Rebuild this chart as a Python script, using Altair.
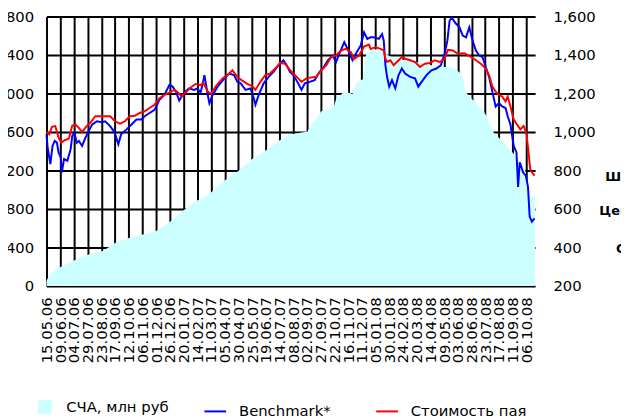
import altair as alt
import pandas as pd

# x-axis tick labels (every 25 days starting 15.05.06)
tick_labels = ["15.05.06", "09.06.06", "04.07.06", "29.07.06", "23.08.06", "17.09.06",
               "12.10.06", "06.11.06", "01.12.06", "26.12.06", "20.01.07", "14.02.07",
               "11.03.07", "05.04.07", "30.04.07", "25.05.07", "19.06.07", "14.07.07",
               "08.08.07", "02.09.07", "27.09.07", "22.10.07", "16.11.07", "11.12.07",
               "05.01.08", "30.01.08", "24.02.08", "20.03.08", "14.04.08", "09.05.08",
               "03.06.08", "28.06.08", "23.07.08", "17.08.08", "11.09.08", "06.10.08"]
tick_days = [i * 25 for i in range(len(tick_labels))]

left_ticks = [0, 400, 800, 1200, 1600, 2000, 2400, 2800]
right_ticks = [200, 400, 600, 800, 1000, 1200, 1400, 1600]

# СЧА, млн руб (left axis); x = days since 15.05.06
sca_day = [0, 4, 8, 15, 23, 35, 47, 60, 77, 90, 101, 113, 125, 138, 150, 162, 174, 186,
           198, 210, 222, 234, 246, 258, 270, 282, 294, 308, 321, 336, 351, 363, 375, 387,
           399, 411, 423, 435, 447, 460, 476, 483, 492, 501, 515, 524, 528, 540, 550, 558,
           566, 577, 583, 595, 605, 614, 625, 640, 660, 680, 702, 726, 744, 752, 758, 764,
           780, 795, 801, 807, 816, 828, 840, 852, 864, 873, 878, 882, 891]
sca_value = [54, 100, 130, 165, 191, 225, 259, 290, 328, 345, 362, 400, 447, 475, 499, 515,
             533, 550, 567, 605, 653, 710, 772, 820, 875, 910, 943, 1010, 1080, 1140, 1200,
             1260, 1319, 1360, 1405, 1455, 1507, 1545, 1576, 1590, 1605, 1680, 1744, 1815,
             1830, 1860, 1940, 2005, 2010, 1995, 2120, 2150, 2420, 2455, 2460, 2430, 2390,
             2360, 2340, 2320, 2294, 2277, 2265, 2225, 2190, 2020, 1918, 1832, 1780, 1695,
             1590, 1524, 1456, 1371, 1280, 1200, 1050, 930, 926]

# Benchmark* (right axis)
bench_day = [0, 2, 7, 11, 15, 19, 22, 26, 28, 32, 38, 44, 47, 51, 55, 59, 65, 71, 77, 83,
             92, 101, 107, 116, 124, 131, 136, 146, 155, 164, 173, 179, 188, 197, 206, 215,
             224, 230, 236, 242, 251, 260, 269, 275, 281, 285, 288, 294, 297, 303, 312, 321,
             333, 342, 348, 354, 363, 372, 378, 381, 387, 396, 405, 414, 423, 432, 438, 444,
             450, 459, 465, 471, 480, 489, 498, 504, 513, 522, 528, 534, 543, 549, 558, 564,
             573, 579, 585, 591, 597, 606, 612, 615, 618, 621, 625, 630, 636, 642, 648, 654,
             663, 672, 678, 684, 693, 702, 711, 719, 726, 731, 735, 739, 745, 753, 759, 765,
             771, 777, 783, 789, 795, 801, 807, 813, 819, 825, 831, 837, 841, 846, 852, 857,
             860, 863, 869, 874, 878, 881, 885, 890]
bench_value = [988, 920, 834, 928, 954, 945, 894, 868, 791, 860, 851, 911, 980, 997, 945,
               954, 928, 971, 1005, 1039, 1056, 1051, 1056, 1031, 1000, 937, 988, 1014, 1039,
               1065, 1065, 1082, 1099, 1116, 1168, 1193, 1244, 1236, 1210, 1164, 1205, 1227,
               1219, 1227, 1205, 1253, 1296, 1193, 1150, 1193, 1236, 1267, 1304, 1296, 1261,
               1253, 1219, 1227, 1176, 1142, 1193, 1253, 1287, 1313, 1347, 1373, 1347, 1313,
               1296, 1253, 1219, 1253, 1261, 1270, 1313, 1330, 1373, 1398, 1364, 1407, 1467,
               1432, 1373, 1407, 1450, 1518, 1484, 1492, 1492, 1484, 1509, 1475, 1347, 1287,
               1236, 1270, 1227, 1296, 1330, 1304, 1287, 1279, 1236, 1261, 1296, 1321, 1330,
               1347, 1407, 1475, 1578, 1595, 1569, 1544, 1501, 1492, 1544, 1475, 1424, 1398,
               1390, 1338, 1287, 1210, 1133, 1150, 1133, 1125, 1082, 1039, 928, 894, 715, 843,
               791, 774, 715, 561, 535, 552]

# Стоимость пая (right axis)
price_day = [0, 5, 10, 16, 22, 27, 34, 41, 47, 53, 59, 65, 73, 80, 89, 98, 107, 116, 125,
             134, 143, 152, 161, 170, 179, 188, 197, 206, 215, 224, 233, 240, 246, 254, 263,
             272, 281, 286, 294, 300, 309, 321, 333, 339, 348, 357, 366, 375, 381, 390, 399,
             408, 417, 426, 435, 442, 450, 459, 465, 474, 483, 492, 501, 510, 519, 528, 537,
             546, 555, 561, 570, 579, 588, 591, 600, 609, 615, 618, 621, 627, 633, 639, 648,
             654, 663, 672, 681, 690, 699, 708, 717, 726, 732, 741, 750, 762, 774, 783, 792,
             801, 807, 813, 819, 825, 831, 837, 841, 846, 852, 858, 864, 870, 875, 879, 882,
             885, 890]
price_value = [1000, 988, 1027, 1031, 971, 945, 959, 966, 1034, 1039, 1022, 1000, 1031, 1048,
               1082, 1082, 1082, 1082, 1056, 1044, 1056, 1082, 1085, 1099, 1108, 1125, 1142,
               1176, 1193, 1205, 1219, 1205, 1185, 1205, 1232, 1250, 1244, 1256, 1210, 1198,
               1239, 1279, 1304, 1321, 1287, 1267, 1250, 1239, 1219, 1261, 1296, 1304, 1330,
               1359, 1355, 1330, 1304, 1279, 1261, 1279, 1284, 1287, 1321, 1347, 1390, 1398,
               1424, 1432, 1415, 1381, 1398, 1444, 1455, 1432, 1441, 1432, 1424, 1381, 1364,
               1373, 1347, 1364, 1390, 1381, 1373, 1364, 1338, 1355, 1359, 1373, 1364, 1381,
               1427, 1424, 1407, 1410, 1390, 1373, 1355, 1330, 1296, 1236, 1210, 1193, 1185,
               1159, 1185, 1133, 1065, 1039, 1014, 1031, 997, 894, 809, 792, 774]

series_names = ["Benchmark*", "Стоимость пая"]
series_colors = ["#0000FF", "#FF0000"]
area_name = "СЧА, млн руб"
side_texts = ["Шкала справа", "Цена пая, руб.", "СЧА слева"]

area_df = pd.DataFrame({"day": sca_day, "value": sca_value, "s": area_name})
lines_df = pd.concat([
    pd.DataFrame({"day": bench_day, "value": bench_value, "series": series_names[0]}),
    pd.DataFrame({"day": price_day, "value": price_value, "series": series_names[1]}),
], ignore_index=True)

label_array = "[" + ",".join("'%s'" % t for t in tick_labels) + "]"

x_axis = alt.Axis(values=tick_days, labelExpr=label_array + "[round(datum.value/25)]",
                  labelAngle=270, labelAlign="right", labelBaseline="middle",
                  grid=True, ticks=False, domain=False, labelPadding=11,
                  labelOverlap=False, labelFlush=False, labelBound=False, title=None)
x_scale = alt.Scale(domain=[0, 891], nice=False, zero=False)

area = alt.Chart(area_df).mark_area(interpolate="linear", opacity=1).encode(
    x=alt.X("day:Q", scale=x_scale, axis=x_axis),
    y=alt.Y("value:Q", scale=alt.Scale(domain=[0, 2800], nice=False),
            axis=alt.Axis(orient="left", values=left_ticks, format=",d", grid=True,
                          ticks=False, domain=False, labelPadding=13, title=None)),
    fill=alt.Fill("s:N", scale=alt.Scale(domain=[area_name], range=["#CCFFFF"]),
                  legend=alt.Legend(orient="none", legendX=-9, legendY=388, title=None,
                                    symbolType="square", symbolSize=196,
                                    symbolStrokeWidth=0, labelOffset=14)),
)

lines = alt.Chart(lines_df).mark_line(strokeWidth=2, interpolate="linear").encode(
    x=alt.X("day:Q", scale=x_scale, axis=x_axis),
    y=alt.Y("value:Q", scale=alt.Scale(domain=[200, 1600], nice=False, zero=False),
            axis=alt.Axis(orient="right", values=right_ticks, format=",d", grid=False,
                          ticks=False, domain=False, labelPadding=18, title=None)),
    stroke=alt.Stroke("series:N", scale=alt.Scale(domain=series_names, range=series_colors),
                      legend=alt.Legend(orient="none", legendX=159, legendY=388, title=None,
                                        direction="horizontal", symbolType="stroke",
                                        symbolSize=484, symbolStrokeWidth=2,
                                        labelOffset=12, columnPadding=42)),
)

side_pos = [(566, 163), (560, 197), (577, 236)]
side_layers = []
for txt, (px, py) in zip(side_texts, side_pos):
    side_layers.append(
        alt.Chart(pd.DataFrame({"t": [txt]})).mark_text(
            align="left", baseline="middle", font="DejaVu Sans", fontSize=13,
            fontWeight="bold", color="black"
        ).encode(x=alt.value(px), y=alt.value(py), text="t:N")
    )

chart = alt.layer(area, lines, *side_layers).resolve_scale(
    y="independent"
).properties(
    width=495, height=273,
    padding={"left": 39, "top": 6, "right": 87, "bottom": 132},
    autosize=alt.AutoSizeParams(type="none"),
).configure_axis(
    labelFont="DejaVu Sans", labelFontSize=15, labelColor="black",
    gridColor="black", gridWidth=2, gridOpacity=1,
).configure_axisX(
    labelOverlap=False,
).configure_legend(
    labelFont="DejaVu Sans", labelFontSize=15, labelColor="black", padding=0,
).configure_view(strokeWidth=0)

chart.save("out.html", embed_options={"renderer": "svg", "actions": False})
